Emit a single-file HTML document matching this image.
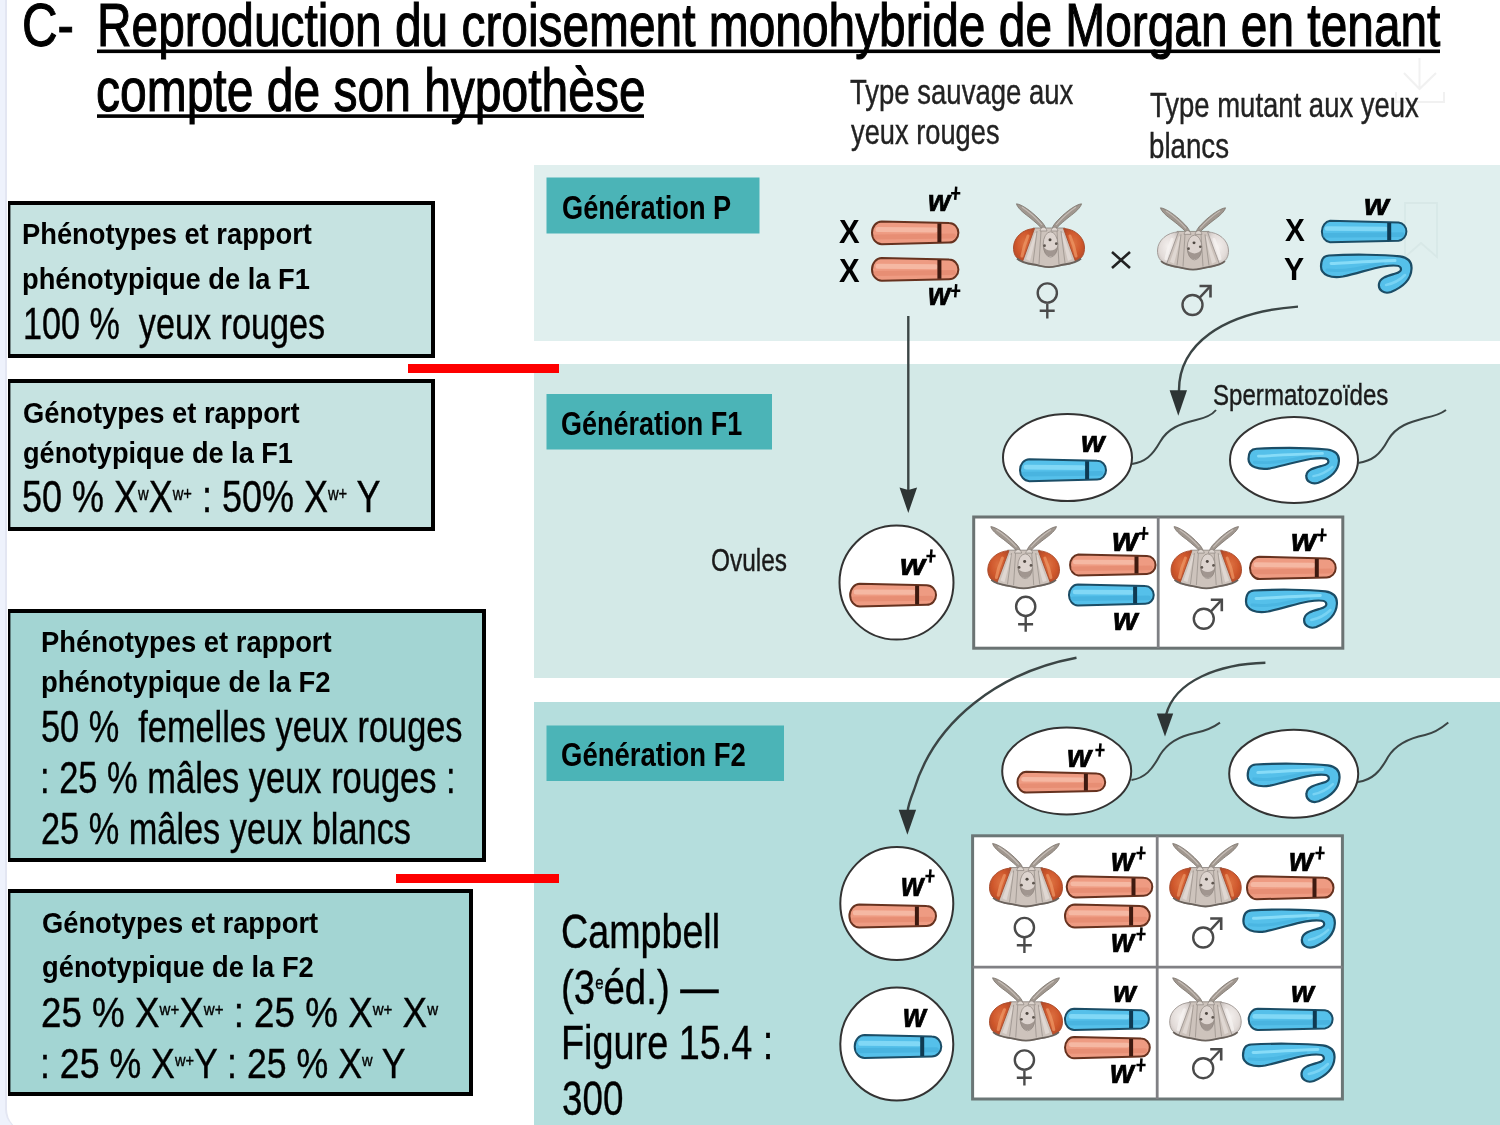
<!DOCTYPE html>
<html><head><meta charset="utf-8"><style>
html,body{margin:0;padding:0;width:1500px;height:1125px;overflow:hidden;background:#eef2fc;}
.slide{position:absolute;left:5px;top:-20px;width:1520px;height:1151px;background:#fff;border-left:2.5px solid #e3e6f2;border-radius:0 0 0 22px;}
.tx{position:absolute;font-family:"Liberation Sans",sans-serif;line-height:1;white-space:pre;transform-origin:0 0;}
svg{position:absolute;left:0;top:0;}
</style></head><body>
<div class="slide"></div>
<svg width="1500" height="1125" viewBox="0 0 1500 1125"><defs><radialGradient id="eyeR" cx="0.5" cy="0.45" r="0.6"><stop offset="0" stop-color="#dc7040"/><stop offset="0.6" stop-color="#cf572c"/><stop offset="1" stop-color="#b44a28"/></radialGradient><filter id="soft" x="-10%" y="-10%" width="120%" height="120%"><feGaussianBlur stdDeviation="0.35"/></filter><radialGradient id="eyeW" cx="0.5" cy="0.45" r="0.6"><stop offset="0" stop-color="#f3efed"/><stop offset="0.7" stop-color="#e2dbd8"/><stop offset="1" stop-color="#c9c1bd"/></radialGradient></defs><rect x="534" y="165" width="966" height="176" fill="#e0efee"/><rect x="534" y="364" width="966" height="314" fill="#d3e9e7"/><rect x="534" y="702" width="966" height="423" fill="#b5dedd"/><rect x="546.5" y="177.5" width="213" height="56" fill="#4bb4b7"/><rect x="546.5" y="394" width="225.5" height="55.5" fill="#4bb4b7"/><rect x="546.5" y="725.5" width="237.5" height="55.5" fill="#4bb4b7"/><rect x="8" y="201" width="427" height="157" fill="#000"/><rect x="10.4" y="205" width="420.6" height="149" fill="#c6e3e1"/><rect x="8" y="379" width="427" height="152" fill="#000"/><rect x="10.4" y="383" width="420.6" height="144" fill="#c6e3e1"/><rect x="8" y="609" width="478" height="253" fill="#000"/><rect x="10.4" y="613" width="471.6" height="245" fill="#a3d5d3"/><rect x="8" y="889" width="465" height="207" fill="#000"/><rect x="10.4" y="893" width="458.6" height="199" fill="#a3d5d3"/><rect x="408" y="364" width="151" height="9" fill="#fe0000"/><rect x="396" y="874" width="163" height="9" fill="#fe0000"/><rect x="97" y="49.5" width="1343" height="3.6" fill="#000"/><rect x="97" y="114.3" width="547" height="3.6" fill="#000"/><path d="M1419.5,58 L1419.5,89 M1404,73 L1419.5,89 L1436,73 M1396,92 L1396,102 L1444,102 L1444,92" stroke="#f1f1f1" stroke-width="2" fill="none"/><path d="M1405,203 L1437,203 L1437,257 L1421,243 L1405,257 Z" stroke="#d8e8e7" stroke-width="1.8" fill="none"/><path d="M881.7,221.4 L949.1,223.0 A9.3,9.8 0 0 1 949.1,242.6 L881.7,244.2 A9.7,11.4 0 0 1 881.7,221.4 Z" fill="#ee9b82" stroke="#66321f" stroke-width="2"/><path d="M876.0,236.9 L953.4,236.0" stroke="#e3846a" stroke-width="5.0" stroke-linecap="round" opacity="0.55"/><path d="M878.0,229.6 L935.4,230.1" stroke="#f8c2ae" stroke-width="5.0" stroke-linecap="round" opacity="0.75"/><path d="M939.4,223.4 L939.4,242.2" stroke="#3e1a10" stroke-width="4"/><path d="M881.7,258.0 L949.1,259.6 A9.3,9.8 0 0 1 949.1,279.2 L881.7,280.8 A9.7,11.4 0 0 1 881.7,258.0 Z" fill="#ee9b82" stroke="#66321f" stroke-width="2"/><path d="M876.0,273.5 L953.4,272.6" stroke="#e3846a" stroke-width="5.0" stroke-linecap="round" opacity="0.55"/><path d="M878.0,266.2 L935.4,266.7" stroke="#f8c2ae" stroke-width="5.0" stroke-linecap="round" opacity="0.75"/><path d="M939.4,260.0 L939.4,278.8" stroke="#3e1a10" stroke-width="4"/><path d="M951.1,193.2 L960.3000000000001,193.2 M956.2,186.6 L955.2,199.79999999999998" stroke="#000" stroke-width="2.5"/><path d="M951.1,290.7 L960.3000000000001,290.7 M956.2,284.09999999999997 L955.2,297.3" stroke="#000" stroke-width="2.5"/><g transform="translate(1013.0,203.0) scale(1.0000,1.0000)" filter="url(#soft)"><path d="M3.5,0.8 C9,1.5 18,8 25,15 C29,19 32,22 33,26 L29.5,26.5 C27,23 22,19 16,14 C9,9 4,4 3.5,0.8 Z" fill="#a0978f" stroke="#7a726b" stroke-width="0.8"/><path d="M68.5,0.8 C63,1.5 54,8 47,15 C43,19 40,22 39,26 L42.5,26.5 C45,23 50,19 56,14 C63,9 68,4 68.5,0.8 Z" fill="#a0978f" stroke="#7a726b" stroke-width="0.8"/><path d="M9,4 C15,8 23,15 29,22 M63,4 C57,8 49,15 43,22" stroke="#cfc7c1" stroke-width="1.1" fill="none" opacity="0.8"/><path d="M20,25 L52,25 L63,58 C58,61 54,62 50,62 C44,63.5 40,64 36,64 C32,64 28,63.5 22,62 C18,62 14,61 9,58 Z" fill="#cdc3bc" stroke="#857d77" stroke-width="0.8"/><path d="M13,56 L22,30 L24,30 L17,58 Z M59,56 L50,30 L48,30 L55,58 Z" fill="#e4dcd7" opacity="0.8"/><path d="M27,28 C28,23 33,23 34,28 Z M38,28 C39,23 44,23 45,28 Z" fill="#ddd5cf" stroke="#8d857f" stroke-width="0.7"/><path d="M21.5,25.5 C10,26 1,34 0.5,44 C0.2,51 3,56 9.5,58.5 Z" fill="url(#eyeR)" stroke="#a84a2a" stroke-width="0.9"/><path d="M50.5,25.5 C62,26 71,34 71.5,44 C71.8,51 69,56 62.5,58.5 Z" fill="url(#eyeR)" stroke="#a84a2a" stroke-width="0.9"/><path d="M15,33 C12,40 10,47 9,53" stroke="#ef9d6c" stroke-width="3" fill="none" stroke-linecap="round" opacity="0.65"/><path d="M57,33 C60,40 62,47 63,53" stroke="#ef9d6c" stroke-width="3" fill="none" stroke-linecap="round" opacity="0.65"/><path d="M24,28 L20,60 M28,28 L26,61 M44,28 L46,61 M48,28 L52,60" stroke="#9a928c" stroke-width="0.8" fill="none"/><ellipse cx="37.5" cy="41.5" rx="7.3" ry="12.7" fill="#ddd4cf" stroke="#8d847e" stroke-width="0.7"/><path d="M30.4,43 C30.5,57 44.5,57 44.6,43 C42,49 33,49 30.4,43 Z" fill="#8c817b" opacity="0.75"/><circle cx="37" cy="36.7" r="1.5" fill="#4e4640"/><circle cx="31.5" cy="42.7" r="1.4" fill="#5e5650"/><circle cx="43.3" cy="40.7" r="1.4" fill="#5e5650"/><path d="M4,55.5 C8,59.5 14,60.5 21,61.5 C27,62.5 31,64.2 36,64.2 C41,64.2 45,62.5 51,61.5 C58,60.5 64,59.5 68,55.5" stroke="#6a625c" stroke-width="1.8" fill="none"/></g><circle cx="1047.3" cy="293" r="9.6" fill="none" stroke="#4a4a4a" stroke-width="2.4"/><path d="M1047.3,303.4 L1047.3,318.4 M1039.7,310.8 L1054.7,310.8" stroke="#4a4a4a" stroke-width="2.4"/><path d="M1112,252 L1130,268 M1130,252 L1112,268" stroke="#222" stroke-width="2.6"/><g transform="translate(1157.0,207.0) scale(1.0000,0.9766)" filter="url(#soft)"><path d="M3.5,0.8 C9,1.5 18,8 25,15 C29,19 32,22 33,26 L29.5,26.5 C27,23 22,19 16,14 C9,9 4,4 3.5,0.8 Z" fill="#a0978f" stroke="#7a726b" stroke-width="0.8"/><path d="M68.5,0.8 C63,1.5 54,8 47,15 C43,19 40,22 39,26 L42.5,26.5 C45,23 50,19 56,14 C63,9 68,4 68.5,0.8 Z" fill="#a0978f" stroke="#7a726b" stroke-width="0.8"/><path d="M9,4 C15,8 23,15 29,22 M63,4 C57,8 49,15 43,22" stroke="#cfc7c1" stroke-width="1.1" fill="none" opacity="0.8"/><path d="M20,25 L52,25 L63,58 C58,61 54,62 50,62 C44,63.5 40,64 36,64 C32,64 28,63.5 22,62 C18,62 14,61 9,58 Z" fill="#cdc3bc" stroke="#857d77" stroke-width="0.8"/><path d="M13,56 L22,30 L24,30 L17,58 Z M59,56 L50,30 L48,30 L55,58 Z" fill="#e4dcd7" opacity="0.8"/><path d="M27,28 C28,23 33,23 34,28 Z M38,28 C39,23 44,23 45,28 Z" fill="#ddd5cf" stroke="#8d857f" stroke-width="0.7"/><path d="M21.5,25.5 C10,26 1,34 0.5,44 C0.2,51 3,56 9.5,58.5 Z" fill="url(#eyeW)" stroke="#9d9591" stroke-width="0.9"/><path d="M50.5,25.5 C62,26 71,34 71.5,44 C71.8,51 69,56 62.5,58.5 Z" fill="url(#eyeW)" stroke="#9d9591" stroke-width="0.9"/><path d="M15,33 C12,40 10,47 9,53" stroke="#f8f4f3" stroke-width="3" fill="none" stroke-linecap="round" opacity="0.65"/><path d="M57,33 C60,40 62,47 63,53" stroke="#f8f4f3" stroke-width="3" fill="none" stroke-linecap="round" opacity="0.65"/><path d="M24,28 L20,60 M28,28 L26,61 M44,28 L46,61 M48,28 L52,60" stroke="#9a928c" stroke-width="0.8" fill="none"/><ellipse cx="37.5" cy="41.5" rx="7.3" ry="12.7" fill="#ddd4cf" stroke="#8d847e" stroke-width="0.7"/><path d="M30.4,43 C30.5,57 44.5,57 44.6,43 C42,49 33,49 30.4,43 Z" fill="#8c817b" opacity="0.75"/><circle cx="37" cy="36.7" r="1.5" fill="#4e4640"/><circle cx="31.5" cy="42.7" r="1.4" fill="#5e5650"/><circle cx="43.3" cy="40.7" r="1.4" fill="#5e5650"/><path d="M4,55.5 C8,59.5 14,60.5 21,61.5 C27,62.5 31,64.2 36,64.2 C41,64.2 45,62.5 51,61.5 C58,60.5 64,59.5 68,55.5" stroke="#6a625c" stroke-width="1.8" fill="none"/></g><circle cx="1192.5" cy="305" r="10" fill="none" stroke="#4a4a4a" stroke-width="2.4"/><path d="M1199.7,297.6 L1209.9,286.6" stroke="#4a4a4a" stroke-width="2.4"/><path d="M1199.5,286 L1210.5,286 L1210.5,297.4" stroke="#4a4a4a" stroke-width="2.6" fill="none"/><path d="M1330.1,220.8 L1398.6,222.4 A8.7,9.2 0 0 1 1398.6,240.7 L1330.1,242.3 A9.1,10.8 0 0 1 1330.1,220.8 Z" fill="#55c0ea" stroke="#1b4d66" stroke-width="2"/><path d="M1325.0,235.4 L1402.3,234.6" stroke="#40acd9" stroke-width="4.7" stroke-linecap="round" opacity="0.55"/><path d="M1327.0,228.5 L1385.2,229.0" stroke="#90e0fa" stroke-width="4.7" stroke-linecap="round" opacity="0.75"/><path d="M1389.2,222.8 L1389.2,240.3" stroke="#0f3a52" stroke-width="4"/><g transform="translate(1321.0,255.0) scale(1.0000,1.0000)"><path d="M8,0.5 C30,-0.8 62,-0.5 79,1.3 C87,2.5 91,7 90.5,14 C90,24 82,32 70,37 C63,39.5 57,35 58,29 C58.5,23 66,21 73,19 C79,17.5 81,15.5 79.5,12.5 C78,10 72,10 62,11.5 C50,13.5 38,18 22,21.5 C10,23.5 0,20 0,11.5 C0,4.5 3,0.7 8,0.5 Z" fill="#55c0ea" stroke="#1b4d66" stroke-width="2.2" vector-effect="non-scaling-stroke"/><path d="M6,15 C25,17 45,12 62,8" stroke="#40acd9" stroke-width="3" fill="none" opacity="0.5" stroke-linecap="round"/><path d="M10,8.5 C30,7.5 55,6 74,5.5" stroke="#90e0fa" stroke-width="3" fill="none" opacity="0.85" stroke-linecap="round"/><path d="M65,30 C70,29 78,26 84,20" stroke="#90e0fa" stroke-width="2.5" fill="none" opacity="0.6" stroke-linecap="round"/></g><path d="M908.3,316 L908.3,492" stroke="#3b4545" stroke-width="2.4"/><path d="M899.5,487.5 L908.3,490.0 L917.0999999999999,487.5 L908.3,513 Z" fill="#2d3434"/><path d="M1298,306.6 C1222,312 1178,345 1179,392" stroke="#3b4545" stroke-width="2.4" fill="none"/><path d="M1169.6,390.2 L1178.3,390.2 L1187.0,390.2 L1178.3,415.7 Z" fill="#2d3434"/><ellipse cx="1067.5" cy="457.6" rx="64.5" ry="43.5" fill="#fff" stroke="#333" stroke-width="2"/><path d="M1029.3,459.2 L1097.1,460.8 A8.9,9.4 0 0 1 1097.1,479.6 L1029.3,481.2 A9.3,11.0 0 0 1 1029.3,459.2 Z" fill="#55c0ea" stroke="#1b4d66" stroke-width="2"/><path d="M1024.0,474.2 L1101.0,473.3" stroke="#40acd9" stroke-width="4.8" stroke-linecap="round" opacity="0.55"/><path d="M1026.0,467.1 L1083.1,467.6" stroke="#90e0fa" stroke-width="4.8" stroke-linecap="round" opacity="0.75"/><path d="M1087.1,461.2 L1087.1,479.2" stroke="#0f3a52" stroke-width="4"/><path d="M1132,464 C1145,462 1152,456 1160,442 C1168,428 1180,424 1196,420 C1205,418 1212,415 1216,410" stroke="#3b4545" stroke-width="2" fill="none"/><ellipse cx="1294" cy="460" rx="64" ry="43" fill="#fff" stroke="#333" stroke-width="2"/><g transform="translate(1248.5,448.3) scale(0.9989,0.9297)"><path d="M8,0.5 C30,-0.8 62,-0.5 79,1.3 C87,2.5 91,7 90.5,14 C90,24 82,32 70,37 C63,39.5 57,35 58,29 C58.5,23 66,21 73,19 C79,17.5 81,15.5 79.5,12.5 C78,10 72,10 62,11.5 C50,13.5 38,18 22,21.5 C10,23.5 0,20 0,11.5 C0,4.5 3,0.7 8,0.5 Z" fill="#55c0ea" stroke="#1b4d66" stroke-width="2.2" vector-effect="non-scaling-stroke"/><path d="M6,15 C25,17 45,12 62,8" stroke="#40acd9" stroke-width="3" fill="none" opacity="0.5" stroke-linecap="round"/><path d="M10,8.5 C30,7.5 55,6 74,5.5" stroke="#90e0fa" stroke-width="3" fill="none" opacity="0.85" stroke-linecap="round"/><path d="M65,30 C70,29 78,26 84,20" stroke="#90e0fa" stroke-width="2.5" fill="none" opacity="0.6" stroke-linecap="round"/></g><path d="M1358,463 C1372,461 1380,455 1388,440 C1396,426 1410,422 1425,418 C1435,416 1442,413 1446,410" stroke="#3b4545" stroke-width="2" fill="none"/><circle cx="896.5" cy="582.6" r="57" fill="#fff" stroke="#333" stroke-width="2"/><path d="M859.8,583.7 L926.7,585.3 A9.3,9.7 0 0 1 926.7,604.8 L859.8,606.4 A9.6,11.3 0 0 1 859.8,583.7 Z" fill="#ee9b82" stroke="#66321f" stroke-width="2"/><path d="M854.2,599.1 L931.0,598.2" stroke="#e3846a" stroke-width="5.0" stroke-linecap="round" opacity="0.55"/><path d="M856.2,591.9 L913.1,592.3" stroke="#f8c2ae" stroke-width="5.0" stroke-linecap="round" opacity="0.75"/><path d="M917.1,585.7 L917.1,604.4" stroke="#3e1a10" stroke-width="4"/><path d="M926.4,556 L935.6,556 M931.5,549.4 L930.5,562.6" stroke="#000" stroke-width="2.5"/><rect x="973.7" y="517" width="369.1" height="131.2" fill="#fff" stroke="#6b7373" stroke-width="3"/><path d="M1158.2,517 L1158.2,648" stroke="#7e8084" stroke-width="2.8"/><g transform="translate(987.3,525.8) scale(1.0097,0.9750)" filter="url(#soft)"><path d="M3.5,0.8 C9,1.5 18,8 25,15 C29,19 32,22 33,26 L29.5,26.5 C27,23 22,19 16,14 C9,9 4,4 3.5,0.8 Z" fill="#a0978f" stroke="#7a726b" stroke-width="0.8"/><path d="M68.5,0.8 C63,1.5 54,8 47,15 C43,19 40,22 39,26 L42.5,26.5 C45,23 50,19 56,14 C63,9 68,4 68.5,0.8 Z" fill="#a0978f" stroke="#7a726b" stroke-width="0.8"/><path d="M9,4 C15,8 23,15 29,22 M63,4 C57,8 49,15 43,22" stroke="#cfc7c1" stroke-width="1.1" fill="none" opacity="0.8"/><path d="M20,25 L52,25 L63,58 C58,61 54,62 50,62 C44,63.5 40,64 36,64 C32,64 28,63.5 22,62 C18,62 14,61 9,58 Z" fill="#cdc3bc" stroke="#857d77" stroke-width="0.8"/><path d="M13,56 L22,30 L24,30 L17,58 Z M59,56 L50,30 L48,30 L55,58 Z" fill="#e4dcd7" opacity="0.8"/><path d="M27,28 C28,23 33,23 34,28 Z M38,28 C39,23 44,23 45,28 Z" fill="#ddd5cf" stroke="#8d857f" stroke-width="0.7"/><path d="M21.5,25.5 C10,26 1,34 0.5,44 C0.2,51 3,56 9.5,58.5 Z" fill="url(#eyeR)" stroke="#a84a2a" stroke-width="0.9"/><path d="M50.5,25.5 C62,26 71,34 71.5,44 C71.8,51 69,56 62.5,58.5 Z" fill="url(#eyeR)" stroke="#a84a2a" stroke-width="0.9"/><path d="M15,33 C12,40 10,47 9,53" stroke="#ef9d6c" stroke-width="3" fill="none" stroke-linecap="round" opacity="0.65"/><path d="M57,33 C60,40 62,47 63,53" stroke="#ef9d6c" stroke-width="3" fill="none" stroke-linecap="round" opacity="0.65"/><path d="M24,28 L20,60 M28,28 L26,61 M44,28 L46,61 M48,28 L52,60" stroke="#9a928c" stroke-width="0.8" fill="none"/><ellipse cx="37.5" cy="41.5" rx="7.3" ry="12.7" fill="#ddd4cf" stroke="#8d847e" stroke-width="0.7"/><path d="M30.4,43 C30.5,57 44.5,57 44.6,43 C42,49 33,49 30.4,43 Z" fill="#8c817b" opacity="0.75"/><circle cx="37" cy="36.7" r="1.5" fill="#4e4640"/><circle cx="31.5" cy="42.7" r="1.4" fill="#5e5650"/><circle cx="43.3" cy="40.7" r="1.4" fill="#5e5650"/><path d="M4,55.5 C8,59.5 14,60.5 21,61.5 C27,62.5 31,64.2 36,64.2 C41,64.2 45,62.5 51,61.5 C58,60.5 64,59.5 68,55.5" stroke="#6a625c" stroke-width="1.8" fill="none"/></g><circle cx="1025.7" cy="606.4" r="9.6" fill="none" stroke="#4a4a4a" stroke-width="2.4"/><path d="M1025.7,616.8 L1025.7,631.8 M1018.1,624.1999999999999 L1033.1000000000001,624.1999999999999" stroke="#4a4a4a" stroke-width="2.4"/><path d="M1078.2,554.4 L1147.0,556.0 A8.5,8.9 0 0 1 1147.0,573.9 L1078.2,575.5 A9.0,10.6 0 0 1 1078.2,554.4 Z" fill="#ee9b82" stroke="#66321f" stroke-width="2"/><path d="M1073.2,568.7 L1150.5,567.9" stroke="#e3846a" stroke-width="4.6" stroke-linecap="round" opacity="0.55"/><path d="M1075.2,562.0 L1132.5,562.4" stroke="#f8c2ae" stroke-width="4.6" stroke-linecap="round" opacity="0.75"/><path d="M1136.5,556.4 L1136.5,573.5" stroke="#3e1a10" stroke-width="4"/><path d="M1077.9,584.5 L1145.3,586.1 A8.4,8.8 0 0 1 1145.3,603.8 L1077.9,605.4 A8.9,10.4 0 0 1 1077.9,584.5 Z" fill="#55c0ea" stroke="#1b4d66" stroke-width="2"/><path d="M1073.0,598.7 L1148.7,597.9" stroke="#40acd9" stroke-width="4.6" stroke-linecap="round" opacity="0.55"/><path d="M1075.0,592.0 L1131.1,592.4" stroke="#90e0fa" stroke-width="4.6" stroke-linecap="round" opacity="0.75"/><path d="M1135.1,586.5 L1135.1,603.4" stroke="#0f3a52" stroke-width="4"/><path d="M1139.2,533.4 L1148.3999999999999,533.4 M1144.3,526.8 L1143.3,540.0" stroke="#000" stroke-width="2.5"/><g transform="translate(1170.6,525.8) scale(0.9917,0.9750)" filter="url(#soft)"><path d="M3.5,0.8 C9,1.5 18,8 25,15 C29,19 32,22 33,26 L29.5,26.5 C27,23 22,19 16,14 C9,9 4,4 3.5,0.8 Z" fill="#a0978f" stroke="#7a726b" stroke-width="0.8"/><path d="M68.5,0.8 C63,1.5 54,8 47,15 C43,19 40,22 39,26 L42.5,26.5 C45,23 50,19 56,14 C63,9 68,4 68.5,0.8 Z" fill="#a0978f" stroke="#7a726b" stroke-width="0.8"/><path d="M9,4 C15,8 23,15 29,22 M63,4 C57,8 49,15 43,22" stroke="#cfc7c1" stroke-width="1.1" fill="none" opacity="0.8"/><path d="M20,25 L52,25 L63,58 C58,61 54,62 50,62 C44,63.5 40,64 36,64 C32,64 28,63.5 22,62 C18,62 14,61 9,58 Z" fill="#cdc3bc" stroke="#857d77" stroke-width="0.8"/><path d="M13,56 L22,30 L24,30 L17,58 Z M59,56 L50,30 L48,30 L55,58 Z" fill="#e4dcd7" opacity="0.8"/><path d="M27,28 C28,23 33,23 34,28 Z M38,28 C39,23 44,23 45,28 Z" fill="#ddd5cf" stroke="#8d857f" stroke-width="0.7"/><path d="M21.5,25.5 C10,26 1,34 0.5,44 C0.2,51 3,56 9.5,58.5 Z" fill="url(#eyeR)" stroke="#a84a2a" stroke-width="0.9"/><path d="M50.5,25.5 C62,26 71,34 71.5,44 C71.8,51 69,56 62.5,58.5 Z" fill="url(#eyeR)" stroke="#a84a2a" stroke-width="0.9"/><path d="M15,33 C12,40 10,47 9,53" stroke="#ef9d6c" stroke-width="3" fill="none" stroke-linecap="round" opacity="0.65"/><path d="M57,33 C60,40 62,47 63,53" stroke="#ef9d6c" stroke-width="3" fill="none" stroke-linecap="round" opacity="0.65"/><path d="M24,28 L20,60 M28,28 L26,61 M44,28 L46,61 M48,28 L52,60" stroke="#9a928c" stroke-width="0.8" fill="none"/><ellipse cx="37.5" cy="41.5" rx="7.3" ry="12.7" fill="#ddd4cf" stroke="#8d847e" stroke-width="0.7"/><path d="M30.4,43 C30.5,57 44.5,57 44.6,43 C42,49 33,49 30.4,43 Z" fill="#8c817b" opacity="0.75"/><circle cx="37" cy="36.7" r="1.5" fill="#4e4640"/><circle cx="31.5" cy="42.7" r="1.4" fill="#5e5650"/><circle cx="43.3" cy="40.7" r="1.4" fill="#5e5650"/><path d="M4,55.5 C8,59.5 14,60.5 21,61.5 C27,62.5 31,64.2 36,64.2 C41,64.2 45,62.5 51,61.5 C58,60.5 64,59.5 68,55.5" stroke="#6a625c" stroke-width="1.8" fill="none"/></g><circle cx="1203.8" cy="618.8" r="10" fill="none" stroke="#4a4a4a" stroke-width="2.4"/><path d="M1211.0,611.4 L1221.2,600.4" stroke="#4a4a4a" stroke-width="2.4"/><path d="M1210.8,599.8 L1221.8,599.8 L1221.8,611.1999999999999" stroke="#4a4a4a" stroke-width="2.6" fill="none"/><path d="M1259.4,556.8 L1326.7,558.4 A9.0,9.5 0 0 1 1326.7,577.4 L1259.4,579.0 A9.4,11.1 0 0 1 1259.4,556.8 Z" fill="#ee9b82" stroke="#66321f" stroke-width="2"/><path d="M1254.0,571.9 L1330.7,571.0" stroke="#e3846a" stroke-width="4.9" stroke-linecap="round" opacity="0.55"/><path d="M1256.0,564.8 L1312.8,565.2" stroke="#f8c2ae" stroke-width="4.9" stroke-linecap="round" opacity="0.75"/><path d="M1316.8,558.8 L1316.8,577.0" stroke="#3e1a10" stroke-width="4"/><g transform="translate(1246.0,590.0) scale(1.0044,1.0000)"><path d="M8,0.5 C30,-0.8 62,-0.5 79,1.3 C87,2.5 91,7 90.5,14 C90,24 82,32 70,37 C63,39.5 57,35 58,29 C58.5,23 66,21 73,19 C79,17.5 81,15.5 79.5,12.5 C78,10 72,10 62,11.5 C50,13.5 38,18 22,21.5 C10,23.5 0,20 0,11.5 C0,4.5 3,0.7 8,0.5 Z" fill="#55c0ea" stroke="#1b4d66" stroke-width="2.2" vector-effect="non-scaling-stroke"/><path d="M6,15 C25,17 45,12 62,8" stroke="#40acd9" stroke-width="3" fill="none" opacity="0.5" stroke-linecap="round"/><path d="M10,8.5 C30,7.5 55,6 74,5.5" stroke="#90e0fa" stroke-width="3" fill="none" opacity="0.85" stroke-linecap="round"/><path d="M65,30 C70,29 78,26 84,20" stroke="#90e0fa" stroke-width="2.5" fill="none" opacity="0.6" stroke-linecap="round"/></g><path d="M1317.4,535 L1326.6,535 M1322.5,528.4 L1321.5,541.6" stroke="#000" stroke-width="2.5"/><path d="M1076.5,657.7 C1000,672 935,720 914,790 C910,800 908,805 907.6,812" stroke="#3b4545" stroke-width="2.4" fill="none"/><path d="M898.6999999999999,809.7 L907.4,809.7 L916.1,809.7 L907.4,834.7 Z" fill="#2d3434"/><path d="M1265.4,662.8 C1220,664 1175,680 1166,715" stroke="#3b4545" stroke-width="2.4" fill="none"/><path d="M1156.8,713.4 L1165,713.4 L1173.2,713.4 L1165,736.4 Z" fill="#2d3434"/><ellipse cx="1066.7" cy="771" rx="64.5" ry="43.5" fill="#fff" stroke="#333" stroke-width="2"/><path d="M1026.3,771.8 L1096.8,773.4 A8.4,8.8 0 0 1 1096.8,791.0 L1026.3,792.6 A8.8,10.4 0 0 1 1026.3,771.8 Z" fill="#ee9b82" stroke="#66321f" stroke-width="2"/><path d="M1021.5,785.9 L1100.2,785.1" stroke="#e3846a" stroke-width="4.6" stroke-linecap="round" opacity="0.55"/><path d="M1023.5,779.3 L1081.9,779.7" stroke="#f8c2ae" stroke-width="4.6" stroke-linecap="round" opacity="0.75"/><path d="M1085.9,773.8 L1085.9,790.6" stroke="#3e1a10" stroke-width="4"/><path d="M1095.4,750 L1104.6,750 M1100.5,743.4 L1099.5,756.6" stroke="#000" stroke-width="2.5"/><path d="M1131.5,780 C1145,778 1152,770 1160,755 C1168,742 1180,736 1195,733 C1205,731 1214,727 1220,722.6" stroke="#3b4545" stroke-width="2" fill="none"/><ellipse cx="1293.7" cy="773.7" rx="64.5" ry="44" fill="#fff" stroke="#333" stroke-width="2"/><g transform="translate(1247.7,764.0) scale(1.0143,1.0081)"><path d="M8,0.5 C30,-0.8 62,-0.5 79,1.3 C87,2.5 91,7 90.5,14 C90,24 82,32 70,37 C63,39.5 57,35 58,29 C58.5,23 66,21 73,19 C79,17.5 81,15.5 79.5,12.5 C78,10 72,10 62,11.5 C50,13.5 38,18 22,21.5 C10,23.5 0,20 0,11.5 C0,4.5 3,0.7 8,0.5 Z" fill="#55c0ea" stroke="#1b4d66" stroke-width="2.2" vector-effect="non-scaling-stroke"/><path d="M6,15 C25,17 45,12 62,8" stroke="#40acd9" stroke-width="3" fill="none" opacity="0.5" stroke-linecap="round"/><path d="M10,8.5 C30,7.5 55,6 74,5.5" stroke="#90e0fa" stroke-width="3" fill="none" opacity="0.85" stroke-linecap="round"/><path d="M65,30 C70,29 78,26 84,20" stroke="#90e0fa" stroke-width="2.5" fill="none" opacity="0.6" stroke-linecap="round"/></g><path d="M1358,782 C1372,780 1380,772 1388,757 C1396,744 1410,738 1425,735 C1435,733 1443,727 1448.3,722.6" stroke="#3b4545" stroke-width="2" fill="none"/><circle cx="896.8" cy="903.6" r="56.5" fill="#fff" stroke="#333" stroke-width="2"/><path d="M859.2,904.5 L926.6,906.1 A9.4,9.9 0 0 1 926.6,925.9 L859.2,927.5 A9.8,11.5 0 0 1 859.2,904.5 Z" fill="#ee9b82" stroke="#66321f" stroke-width="2"/><path d="M853.4,920.1 L931.0,919.2" stroke="#e3846a" stroke-width="5.1" stroke-linecap="round" opacity="0.55"/><path d="M855.4,912.8 L912.9,913.2" stroke="#f8c2ae" stroke-width="5.1" stroke-linecap="round" opacity="0.75"/><path d="M916.9,906.5 L916.9,925.5" stroke="#3e1a10" stroke-width="4"/><path d="M925.4,876 L934.6,876 M930.5,869.4 L929.5,882.6" stroke="#000" stroke-width="2.5"/><circle cx="896.8" cy="1044" r="56.5" fill="#fff" stroke="#333" stroke-width="2"/><path d="M864.5,1035.0 L931.9,1036.6 A9.4,9.9 0 0 1 931.9,1056.4 L864.5,1058.0 A9.8,11.5 0 0 1 864.5,1035.0 Z" fill="#55c0ea" stroke="#1b4d66" stroke-width="2"/><path d="M858.7,1050.6 L936.3,1049.7" stroke="#40acd9" stroke-width="5.1" stroke-linecap="round" opacity="0.55"/><path d="M860.7,1043.3 L918.2,1043.7" stroke="#90e0fa" stroke-width="5.1" stroke-linecap="round" opacity="0.75"/><path d="M922.2,1037.0 L922.2,1056.0" stroke="#0f3a52" stroke-width="4"/><rect x="972.6" y="835.8" width="369.8" height="263.2" fill="#fff" stroke="#6b7676" stroke-width="3"/><path d="M1157.2,835.8 L1157.2,1099 M972.6,967.1 L1342.4,967.1" stroke="#808084" stroke-width="2.8"/><g transform="translate(989.0,842.7) scale(1.0278,0.9937)" filter="url(#soft)"><path d="M3.5,0.8 C9,1.5 18,8 25,15 C29,19 32,22 33,26 L29.5,26.5 C27,23 22,19 16,14 C9,9 4,4 3.5,0.8 Z" fill="#a0978f" stroke="#7a726b" stroke-width="0.8"/><path d="M68.5,0.8 C63,1.5 54,8 47,15 C43,19 40,22 39,26 L42.5,26.5 C45,23 50,19 56,14 C63,9 68,4 68.5,0.8 Z" fill="#a0978f" stroke="#7a726b" stroke-width="0.8"/><path d="M9,4 C15,8 23,15 29,22 M63,4 C57,8 49,15 43,22" stroke="#cfc7c1" stroke-width="1.1" fill="none" opacity="0.8"/><path d="M20,25 L52,25 L63,58 C58,61 54,62 50,62 C44,63.5 40,64 36,64 C32,64 28,63.5 22,62 C18,62 14,61 9,58 Z" fill="#cdc3bc" stroke="#857d77" stroke-width="0.8"/><path d="M13,56 L22,30 L24,30 L17,58 Z M59,56 L50,30 L48,30 L55,58 Z" fill="#e4dcd7" opacity="0.8"/><path d="M27,28 C28,23 33,23 34,28 Z M38,28 C39,23 44,23 45,28 Z" fill="#ddd5cf" stroke="#8d857f" stroke-width="0.7"/><path d="M21.5,25.5 C10,26 1,34 0.5,44 C0.2,51 3,56 9.5,58.5 Z" fill="url(#eyeR)" stroke="#a84a2a" stroke-width="0.9"/><path d="M50.5,25.5 C62,26 71,34 71.5,44 C71.8,51 69,56 62.5,58.5 Z" fill="url(#eyeR)" stroke="#a84a2a" stroke-width="0.9"/><path d="M15,33 C12,40 10,47 9,53" stroke="#ef9d6c" stroke-width="3" fill="none" stroke-linecap="round" opacity="0.65"/><path d="M57,33 C60,40 62,47 63,53" stroke="#ef9d6c" stroke-width="3" fill="none" stroke-linecap="round" opacity="0.65"/><path d="M24,28 L20,60 M28,28 L26,61 M44,28 L46,61 M48,28 L52,60" stroke="#9a928c" stroke-width="0.8" fill="none"/><ellipse cx="37.5" cy="41.5" rx="7.3" ry="12.7" fill="#ddd4cf" stroke="#8d847e" stroke-width="0.7"/><path d="M30.4,43 C30.5,57 44.5,57 44.6,43 C42,49 33,49 30.4,43 Z" fill="#8c817b" opacity="0.75"/><circle cx="37" cy="36.7" r="1.5" fill="#4e4640"/><circle cx="31.5" cy="42.7" r="1.4" fill="#5e5650"/><circle cx="43.3" cy="40.7" r="1.4" fill="#5e5650"/><path d="M4,55.5 C8,59.5 14,60.5 21,61.5 C27,62.5 31,64.2 36,64.2 C41,64.2 45,62.5 51,61.5 C58,60.5 64,59.5 68,55.5" stroke="#6a625c" stroke-width="1.8" fill="none"/></g><circle cx="1024.4" cy="927.5" r="9.6" fill="none" stroke="#4a4a4a" stroke-width="2.4"/><path d="M1024.4,937.9 L1024.4,952.9 M1016.8000000000001,945.3 L1031.8000000000002,945.3" stroke="#4a4a4a" stroke-width="2.4"/><path d="M1075.7,876.2 L1143.8,877.8 A8.5,9.0 0 0 1 1143.8,895.8 L1075.7,897.4 A9.0,10.6 0 0 1 1075.7,876.2 Z" fill="#ee9b82" stroke="#66321f" stroke-width="2"/><path d="M1070.7,890.6 L1147.3,889.8" stroke="#e3846a" stroke-width="4.7" stroke-linecap="round" opacity="0.55"/><path d="M1072.7,883.8 L1129.5,884.3" stroke="#f8c2ae" stroke-width="4.7" stroke-linecap="round" opacity="0.75"/><path d="M1133.5,878.2 L1133.5,895.4" stroke="#3e1a10" stroke-width="4"/><path d="M1074.8,904.5 L1140.4,906.1 A9.4,9.9 0 0 1 1140.4,925.9 L1074.8,927.5 A9.8,11.5 0 0 1 1074.8,904.5 Z" fill="#ee9b82" stroke="#66321f" stroke-width="2"/><path d="M1069.0,920.1 L1144.8,919.2" stroke="#e3846a" stroke-width="5.1" stroke-linecap="round" opacity="0.55"/><path d="M1071.0,912.8 L1127.1,913.2" stroke="#f8c2ae" stroke-width="5.1" stroke-linecap="round" opacity="0.75"/><path d="M1131.1,906.5 L1131.1,925.5" stroke="#3e1a10" stroke-width="4"/><path d="M1136.4,853 L1145.6,853 M1141.5,846.4 L1140.5,859.6" stroke="#000" stroke-width="2.5"/><path d="M1136.4,934 L1145.6,934 M1141.5,927.4 L1140.5,940.6" stroke="#000" stroke-width="2.5"/><g transform="translate(1169.2,842.7) scale(1.0069,0.9937)" filter="url(#soft)"><path d="M3.5,0.8 C9,1.5 18,8 25,15 C29,19 32,22 33,26 L29.5,26.5 C27,23 22,19 16,14 C9,9 4,4 3.5,0.8 Z" fill="#a0978f" stroke="#7a726b" stroke-width="0.8"/><path d="M68.5,0.8 C63,1.5 54,8 47,15 C43,19 40,22 39,26 L42.5,26.5 C45,23 50,19 56,14 C63,9 68,4 68.5,0.8 Z" fill="#a0978f" stroke="#7a726b" stroke-width="0.8"/><path d="M9,4 C15,8 23,15 29,22 M63,4 C57,8 49,15 43,22" stroke="#cfc7c1" stroke-width="1.1" fill="none" opacity="0.8"/><path d="M20,25 L52,25 L63,58 C58,61 54,62 50,62 C44,63.5 40,64 36,64 C32,64 28,63.5 22,62 C18,62 14,61 9,58 Z" fill="#cdc3bc" stroke="#857d77" stroke-width="0.8"/><path d="M13,56 L22,30 L24,30 L17,58 Z M59,56 L50,30 L48,30 L55,58 Z" fill="#e4dcd7" opacity="0.8"/><path d="M27,28 C28,23 33,23 34,28 Z M38,28 C39,23 44,23 45,28 Z" fill="#ddd5cf" stroke="#8d857f" stroke-width="0.7"/><path d="M21.5,25.5 C10,26 1,34 0.5,44 C0.2,51 3,56 9.5,58.5 Z" fill="url(#eyeR)" stroke="#a84a2a" stroke-width="0.9"/><path d="M50.5,25.5 C62,26 71,34 71.5,44 C71.8,51 69,56 62.5,58.5 Z" fill="url(#eyeR)" stroke="#a84a2a" stroke-width="0.9"/><path d="M15,33 C12,40 10,47 9,53" stroke="#ef9d6c" stroke-width="3" fill="none" stroke-linecap="round" opacity="0.65"/><path d="M57,33 C60,40 62,47 63,53" stroke="#ef9d6c" stroke-width="3" fill="none" stroke-linecap="round" opacity="0.65"/><path d="M24,28 L20,60 M28,28 L26,61 M44,28 L46,61 M48,28 L52,60" stroke="#9a928c" stroke-width="0.8" fill="none"/><ellipse cx="37.5" cy="41.5" rx="7.3" ry="12.7" fill="#ddd4cf" stroke="#8d847e" stroke-width="0.7"/><path d="M30.4,43 C30.5,57 44.5,57 44.6,43 C42,49 33,49 30.4,43 Z" fill="#8c817b" opacity="0.75"/><circle cx="37" cy="36.7" r="1.5" fill="#4e4640"/><circle cx="31.5" cy="42.7" r="1.4" fill="#5e5650"/><circle cx="43.3" cy="40.7" r="1.4" fill="#5e5650"/><path d="M4,55.5 C8,59.5 14,60.5 21,61.5 C27,62.5 31,64.2 36,64.2 C41,64.2 45,62.5 51,61.5 C58,60.5 64,59.5 68,55.5" stroke="#6a625c" stroke-width="1.8" fill="none"/></g><circle cx="1203.2" cy="937.5" r="10" fill="none" stroke="#4a4a4a" stroke-width="2.4"/><path d="M1210.4,930.1 L1220.6000000000001,919.1" stroke="#4a4a4a" stroke-width="2.4"/><path d="M1210.2,918.5 L1221.2,918.5 L1221.2,929.9" stroke="#4a4a4a" stroke-width="2.6" fill="none"/><path d="M1256.8,876.2 L1324.1,877.8 A9.4,9.9 0 0 1 1324.1,897.6 L1256.8,899.2 A9.8,11.5 0 0 1 1256.8,876.2 Z" fill="#ee9b82" stroke="#66321f" stroke-width="2"/><path d="M1251.0,891.8 L1328.5,890.9" stroke="#e3846a" stroke-width="5.1" stroke-linecap="round" opacity="0.55"/><path d="M1253.0,884.5 L1310.5,884.9" stroke="#f8c2ae" stroke-width="5.1" stroke-linecap="round" opacity="0.75"/><path d="M1314.5,878.2 L1314.5,897.2" stroke="#3e1a10" stroke-width="4"/><g transform="translate(1243.4,909.8) scale(1.0099,1.0027)"><path d="M8,0.5 C30,-0.8 62,-0.5 79,1.3 C87,2.5 91,7 90.5,14 C90,24 82,32 70,37 C63,39.5 57,35 58,29 C58.5,23 66,21 73,19 C79,17.5 81,15.5 79.5,12.5 C78,10 72,10 62,11.5 C50,13.5 38,18 22,21.5 C10,23.5 0,20 0,11.5 C0,4.5 3,0.7 8,0.5 Z" fill="#55c0ea" stroke="#1b4d66" stroke-width="2.2" vector-effect="non-scaling-stroke"/><path d="M6,15 C25,17 45,12 62,8" stroke="#40acd9" stroke-width="3" fill="none" opacity="0.5" stroke-linecap="round"/><path d="M10,8.5 C30,7.5 55,6 74,5.5" stroke="#90e0fa" stroke-width="3" fill="none" opacity="0.85" stroke-linecap="round"/><path d="M65,30 C70,29 78,26 84,20" stroke="#90e0fa" stroke-width="2.5" fill="none" opacity="0.6" stroke-linecap="round"/></g><path d="M1315.4,853 L1324.6,853 M1320.5,846.4 L1319.5,859.6" stroke="#000" stroke-width="2.5"/><g transform="translate(989.0,977.0) scale(1.0278,0.9922)" filter="url(#soft)"><path d="M3.5,0.8 C9,1.5 18,8 25,15 C29,19 32,22 33,26 L29.5,26.5 C27,23 22,19 16,14 C9,9 4,4 3.5,0.8 Z" fill="#a0978f" stroke="#7a726b" stroke-width="0.8"/><path d="M68.5,0.8 C63,1.5 54,8 47,15 C43,19 40,22 39,26 L42.5,26.5 C45,23 50,19 56,14 C63,9 68,4 68.5,0.8 Z" fill="#a0978f" stroke="#7a726b" stroke-width="0.8"/><path d="M9,4 C15,8 23,15 29,22 M63,4 C57,8 49,15 43,22" stroke="#cfc7c1" stroke-width="1.1" fill="none" opacity="0.8"/><path d="M20,25 L52,25 L63,58 C58,61 54,62 50,62 C44,63.5 40,64 36,64 C32,64 28,63.5 22,62 C18,62 14,61 9,58 Z" fill="#cdc3bc" stroke="#857d77" stroke-width="0.8"/><path d="M13,56 L22,30 L24,30 L17,58 Z M59,56 L50,30 L48,30 L55,58 Z" fill="#e4dcd7" opacity="0.8"/><path d="M27,28 C28,23 33,23 34,28 Z M38,28 C39,23 44,23 45,28 Z" fill="#ddd5cf" stroke="#8d857f" stroke-width="0.7"/><path d="M21.5,25.5 C10,26 1,34 0.5,44 C0.2,51 3,56 9.5,58.5 Z" fill="url(#eyeR)" stroke="#a84a2a" stroke-width="0.9"/><path d="M50.5,25.5 C62,26 71,34 71.5,44 C71.8,51 69,56 62.5,58.5 Z" fill="url(#eyeR)" stroke="#a84a2a" stroke-width="0.9"/><path d="M15,33 C12,40 10,47 9,53" stroke="#ef9d6c" stroke-width="3" fill="none" stroke-linecap="round" opacity="0.65"/><path d="M57,33 C60,40 62,47 63,53" stroke="#ef9d6c" stroke-width="3" fill="none" stroke-linecap="round" opacity="0.65"/><path d="M24,28 L20,60 M28,28 L26,61 M44,28 L46,61 M48,28 L52,60" stroke="#9a928c" stroke-width="0.8" fill="none"/><ellipse cx="37.5" cy="41.5" rx="7.3" ry="12.7" fill="#ddd4cf" stroke="#8d847e" stroke-width="0.7"/><path d="M30.4,43 C30.5,57 44.5,57 44.6,43 C42,49 33,49 30.4,43 Z" fill="#8c817b" opacity="0.75"/><circle cx="37" cy="36.7" r="1.5" fill="#4e4640"/><circle cx="31.5" cy="42.7" r="1.4" fill="#5e5650"/><circle cx="43.3" cy="40.7" r="1.4" fill="#5e5650"/><path d="M4,55.5 C8,59.5 14,60.5 21,61.5 C27,62.5 31,64.2 36,64.2 C41,64.2 45,62.5 51,61.5 C58,60.5 64,59.5 68,55.5" stroke="#6a625c" stroke-width="1.8" fill="none"/></g><circle cx="1024.4" cy="1060" r="9.6" fill="none" stroke="#4a4a4a" stroke-width="2.4"/><path d="M1024.4,1070.4 L1024.4,1085.4 M1016.8000000000001,1077.8 L1031.8000000000002,1077.8" stroke="#4a4a4a" stroke-width="2.4"/><path d="M1074.1,1008.7 L1141.2,1010.3 A8.6,9.1 0 0 1 1141.2,1028.4 L1074.1,1030.0 A9.1,10.6 0 0 1 1074.1,1008.7 Z" fill="#55c0ea" stroke="#1b4d66" stroke-width="2"/><path d="M1069.0,1023.2 L1144.8,1022.3" stroke="#40acd9" stroke-width="4.7" stroke-linecap="round" opacity="0.55"/><path d="M1071.0,1016.4 L1127.1,1016.8" stroke="#90e0fa" stroke-width="4.7" stroke-linecap="round" opacity="0.75"/><path d="M1131.1,1010.7 L1131.1,1028.0" stroke="#0f3a52" stroke-width="4"/><path d="M1074.0,1037.0 L1141.2,1038.6 A8.6,9.0 0 0 1 1141.2,1056.6 L1074.0,1058.2 A9.0,10.6 0 0 1 1074.0,1037.0 Z" fill="#ee9b82" stroke="#66321f" stroke-width="2"/><path d="M1069.0,1051.4 L1144.8,1050.6" stroke="#e3846a" stroke-width="4.7" stroke-linecap="round" opacity="0.55"/><path d="M1071.0,1044.6 L1127.1,1045.1" stroke="#f8c2ae" stroke-width="4.7" stroke-linecap="round" opacity="0.75"/><path d="M1131.1,1039.0 L1131.1,1056.2" stroke="#3e1a10" stroke-width="4"/><path d="M1136.4,1065 L1145.6,1065 M1141.5,1058.4 L1140.5,1071.6" stroke="#000" stroke-width="2.5"/><g transform="translate(1169.2,977.0) scale(1.0069,0.9922)" filter="url(#soft)"><path d="M3.5,0.8 C9,1.5 18,8 25,15 C29,19 32,22 33,26 L29.5,26.5 C27,23 22,19 16,14 C9,9 4,4 3.5,0.8 Z" fill="#a0978f" stroke="#7a726b" stroke-width="0.8"/><path d="M68.5,0.8 C63,1.5 54,8 47,15 C43,19 40,22 39,26 L42.5,26.5 C45,23 50,19 56,14 C63,9 68,4 68.5,0.8 Z" fill="#a0978f" stroke="#7a726b" stroke-width="0.8"/><path d="M9,4 C15,8 23,15 29,22 M63,4 C57,8 49,15 43,22" stroke="#cfc7c1" stroke-width="1.1" fill="none" opacity="0.8"/><path d="M20,25 L52,25 L63,58 C58,61 54,62 50,62 C44,63.5 40,64 36,64 C32,64 28,63.5 22,62 C18,62 14,61 9,58 Z" fill="#cdc3bc" stroke="#857d77" stroke-width="0.8"/><path d="M13,56 L22,30 L24,30 L17,58 Z M59,56 L50,30 L48,30 L55,58 Z" fill="#e4dcd7" opacity="0.8"/><path d="M27,28 C28,23 33,23 34,28 Z M38,28 C39,23 44,23 45,28 Z" fill="#ddd5cf" stroke="#8d857f" stroke-width="0.7"/><path d="M21.5,25.5 C10,26 1,34 0.5,44 C0.2,51 3,56 9.5,58.5 Z" fill="url(#eyeW)" stroke="#9d9591" stroke-width="0.9"/><path d="M50.5,25.5 C62,26 71,34 71.5,44 C71.8,51 69,56 62.5,58.5 Z" fill="url(#eyeW)" stroke="#9d9591" stroke-width="0.9"/><path d="M15,33 C12,40 10,47 9,53" stroke="#f8f4f3" stroke-width="3" fill="none" stroke-linecap="round" opacity="0.65"/><path d="M57,33 C60,40 62,47 63,53" stroke="#f8f4f3" stroke-width="3" fill="none" stroke-linecap="round" opacity="0.65"/><path d="M24,28 L20,60 M28,28 L26,61 M44,28 L46,61 M48,28 L52,60" stroke="#9a928c" stroke-width="0.8" fill="none"/><ellipse cx="37.5" cy="41.5" rx="7.3" ry="12.7" fill="#ddd4cf" stroke="#8d847e" stroke-width="0.7"/><path d="M30.4,43 C30.5,57 44.5,57 44.6,43 C42,49 33,49 30.4,43 Z" fill="#8c817b" opacity="0.75"/><circle cx="37" cy="36.7" r="1.5" fill="#4e4640"/><circle cx="31.5" cy="42.7" r="1.4" fill="#5e5650"/><circle cx="43.3" cy="40.7" r="1.4" fill="#5e5650"/><path d="M4,55.5 C8,59.5 14,60.5 21,61.5 C27,62.5 31,64.2 36,64.2 C41,64.2 45,62.5 51,61.5 C58,60.5 64,59.5 68,55.5" stroke="#6a625c" stroke-width="1.8" fill="none"/></g><circle cx="1203.2" cy="1068.2" r="10" fill="none" stroke="#4a4a4a" stroke-width="2.4"/><path d="M1210.4,1060.8 L1220.6000000000001,1049.8" stroke="#4a4a4a" stroke-width="2.4"/><path d="M1210.2,1049.2 L1221.2,1049.2 L1221.2,1060.6000000000001" stroke="#4a4a4a" stroke-width="2.6" fill="none"/><path d="M1257.8,1008.7 L1324.9,1010.3 A8.6,9.1 0 0 1 1324.9,1028.4 L1257.8,1030.0 A9.1,10.6 0 0 1 1257.8,1008.7 Z" fill="#55c0ea" stroke="#1b4d66" stroke-width="2"/><path d="M1252.7,1023.2 L1328.5,1022.3" stroke="#40acd9" stroke-width="4.7" stroke-linecap="round" opacity="0.55"/><path d="M1254.7,1016.4 L1310.8,1016.8" stroke="#90e0fa" stroke-width="4.7" stroke-linecap="round" opacity="0.75"/><path d="M1314.8,1010.7 L1314.8,1028.0" stroke="#0f3a52" stroke-width="4"/><g transform="translate(1243.0,1044.0) scale(1.0110,1.0000)"><path d="M8,0.5 C30,-0.8 62,-0.5 79,1.3 C87,2.5 91,7 90.5,14 C90,24 82,32 70,37 C63,39.5 57,35 58,29 C58.5,23 66,21 73,19 C79,17.5 81,15.5 79.5,12.5 C78,10 72,10 62,11.5 C50,13.5 38,18 22,21.5 C10,23.5 0,20 0,11.5 C0,4.5 3,0.7 8,0.5 Z" fill="#55c0ea" stroke="#1b4d66" stroke-width="2.2" vector-effect="non-scaling-stroke"/><path d="M6,15 C25,17 45,12 62,8" stroke="#40acd9" stroke-width="3" fill="none" opacity="0.5" stroke-linecap="round"/><path d="M10,8.5 C30,7.5 55,6 74,5.5" stroke="#90e0fa" stroke-width="3" fill="none" opacity="0.85" stroke-linecap="round"/><path d="M65,30 C70,29 78,26 84,20" stroke="#90e0fa" stroke-width="2.5" fill="none" opacity="0.6" stroke-linecap="round"/></g></svg>
<span class='tx' style='left:21.54px;top:-5.19px;font-size:61.05px;font-weight:400;font-style:normal;transform:scaleX(0.8071);color:#000;-webkit-text-stroke:1.1px #000;'>C-</span><span class='tx' style='left:96.67px;top:-5.19px;font-size:61.05px;font-weight:400;font-style:normal;transform:scaleX(0.7839);color:#000;-webkit-text-stroke:1.1px #000;'>Reproduction du croisement monohybride de Morgan en tenant</span><span class='tx' style='left:96.38px;top:59.61px;font-size:61.05px;font-weight:400;font-style:normal;transform:scaleX(0.7862);color:#000;-webkit-text-stroke:1.1px #000;'>compte de son hypothèse</span><span class='tx' style='left:849.95px;top:74.73px;font-size:35.61px;font-weight:400;font-style:normal;transform:scaleX(0.7726);color:#222;-webkit-text-stroke:0.4px #222;'>Type sauvage aux</span><span class='tx' style='left:850.50px;top:115.33px;font-size:35.61px;font-weight:400;font-style:normal;transform:scaleX(0.7656);color:#222;-webkit-text-stroke:0.4px #222;'>yeux rouges</span><span class='tx' style='left:1150.45px;top:88.05px;font-size:34.88px;font-weight:400;font-style:normal;transform:scaleX(0.7880);color:#222;-webkit-text-stroke:0.4px #222;'>Type mutant aux yeux</span><span class='tx' style='left:1149.06px;top:128.55px;font-size:34.88px;font-weight:400;font-style:normal;transform:scaleX(0.7940);color:#222;-webkit-text-stroke:0.4px #222;'>blancs</span><span class='tx' style='left:22.29px;top:218.90px;font-size:30.23px;font-weight:700;font-style:normal;transform:scaleX(0.9040);color:#000;'>Phénotypes et rapport</span><span class='tx' style='left:22.29px;top:263.90px;font-size:30.23px;font-weight:700;font-style:normal;transform:scaleX(0.9022);color:#000;'>phénotypique de la F1</span><span class='tx' style='left:23.27px;top:302.84px;font-size:43.60px;font-weight:400;font-style:normal;transform:scaleX(0.7837);color:#000;-webkit-text-stroke:0.4px #000;'>100 %  yeux rouges</span><span class='tx' style='left:22.61px;top:397.50px;font-size:30.23px;font-weight:700;font-style:normal;transform:scaleX(0.9052);color:#000;'>Génotypes et rapport</span><span class='tx' style='left:22.61px;top:438.20px;font-size:30.23px;font-weight:700;font-style:normal;transform:scaleX(0.8982);color:#000;'>génotypique de la F1</span><span class='tx' style='left:22.26px;top:476.44px;font-size:43.60px;font-weight:400;font-style:normal;transform:scaleX(0.8254);color:#000;-webkit-text-stroke:0.4px #000;'>50 % X<span style='font-size:41%;position:relative;top:-0.72em'>w</span>X<span style='font-size:41%;position:relative;top:-0.72em'>w+</span> : 50% X<span style='font-size:41%;position:relative;top:-0.72em'>w+</span> Y</span><span class='tx' style='left:41.38px;top:626.94px;font-size:29.36px;font-weight:700;font-style:normal;transform:scaleX(0.9328);color:#000;'>Phénotypes et rapport</span><span class='tx' style='left:41.38px;top:667.34px;font-size:29.36px;font-weight:700;font-style:normal;transform:scaleX(0.9344);color:#000;'>phénotypique de la F2</span><span class='tx' style='left:41.33px;top:705.54px;font-size:43.60px;font-weight:400;font-style:normal;transform:scaleX(0.7870);color:#000;-webkit-text-stroke:0.4px #000;'>50 %  femelles yeux rouges</span><span class='tx' style='left:40.40px;top:756.84px;font-size:43.60px;font-weight:400;font-style:normal;transform:scaleX(0.7905);color:#000;-webkit-text-stroke:0.4px #000;'>: 25 % mâles yeux rouges :</span><span class='tx' style='left:41.08px;top:808.04px;font-size:43.60px;font-weight:400;font-style:normal;transform:scaleX(0.7870);color:#000;-webkit-text-stroke:0.4px #000;'>25 % mâles yeux blancs</span><span class='tx' style='left:42.21px;top:907.84px;font-size:29.36px;font-weight:700;font-style:normal;transform:scaleX(0.9300);color:#000;'>Génotypes et rapport</span><span class='tx' style='left:42.21px;top:952.44px;font-size:29.36px;font-weight:700;font-style:normal;transform:scaleX(0.9307);color:#000;'>génotypique de la F2</span><span class='tx' style='left:40.86px;top:992.02px;font-size:41.86px;font-weight:400;font-style:normal;transform:scaleX(0.8784);color:#000;-webkit-text-stroke:0.4px #000;'>25 % X<span style='font-size:41%;position:relative;top:-0.72em'>w+</span>X<span style='font-size:41%;position:relative;top:-0.72em'>w+</span> : 25 % X<span style='font-size:41%;position:relative;top:-0.72em'>w+</span> X<span style='font-size:41%;position:relative;top:-0.72em'>w</span></span><span class='tx' style='left:40.29px;top:1043.32px;font-size:41.86px;font-weight:400;font-style:normal;transform:scaleX(0.8525);color:#000;-webkit-text-stroke:0.4px #000;'>: 25 % X<span style='font-size:41%;position:relative;top:-0.72em'>w+</span>Y : 25 % X<span style='font-size:41%;position:relative;top:-0.72em'>w</span> Y</span><span class='tx' style='left:561.71px;top:190.94px;font-size:33.72px;font-weight:700;font-style:normal;transform:scaleX(0.8062);color:#000;'>Génération P</span><span class='tx' style='left:561.32px;top:407.04px;font-size:33.72px;font-weight:700;font-style:normal;transform:scaleX(0.7997);color:#000;'>Génération F1</span><span class='tx' style='left:561.30px;top:738.04px;font-size:33.72px;font-weight:700;font-style:normal;transform:scaleX(0.8155);color:#000;'>Génération F2</span><span class='tx' style='left:1212.70px;top:381.39px;font-size:29.07px;font-weight:400;font-style:normal;transform:scaleX(0.8289);color:#1a1a1a;-webkit-text-stroke:0.4px #1a1a1a;'>Spermatozoïdes</span><span class='tx' style='left:710.78px;top:545.51px;font-size:30.81px;font-weight:400;font-style:normal;transform:scaleX(0.7926);color:#1a1a1a;-webkit-text-stroke:0.4px #1a1a1a;'>Ovules</span><span class='tx' style='left:560.92px;top:906.56px;font-size:48.98px;font-weight:400;font-style:normal;transform:scaleX(0.7689);color:#000;-webkit-text-stroke:0.4px #000;'>Campbell</span><span class='tx' style='left:560.69px;top:962.86px;font-size:48.98px;font-weight:400;font-style:normal;transform:scaleX(0.7844);color:#000;-webkit-text-stroke:0.4px #000;'>(3<span style='font-size:39%;position:relative;top:-0.78em'>e</span>éd.) —</span><span class='tx' style='left:560.97px;top:1018.06px;font-size:48.98px;font-weight:400;font-style:normal;transform:scaleX(0.7723);color:#000;-webkit-text-stroke:0.4px #000;'>Figure 15.4 :</span><span class='tx' style='left:561.53px;top:1074.26px;font-size:48.98px;font-weight:400;font-style:normal;transform:scaleX(0.7511);color:#000;-webkit-text-stroke:0.4px #000;'>300</span><span class='tx' style='left:839.29px;top:213.59px;font-size:34.01px;font-weight:700;font-style:normal;transform:scaleX(0.9096);color:#000;'>X</span><span class='tx' style='left:839.29px;top:252.59px;font-size:34.01px;font-weight:700;font-style:normal;transform:scaleX(0.9096);color:#000;'>X</span><span class='tx' style='left:1284.70px;top:215.34px;font-size:31.25px;font-weight:700;font-style:normal;transform:scaleX(0.9500);color:#000;'>X</span><span class='tx' style='left:1284.40px;top:253.84px;font-size:31.25px;font-weight:700;font-style:normal;transform:scaleX(0.9651);color:#000;'>Y</span><span class='tx' style='left:927.58px;top:185.59px;font-size:29.55px;font-weight:700;font-style:italic;transform:scaleX(0.9633);color:#000;-webkit-text-stroke:0.7px #000;'>w</span><span class='tx' style='left:927.58px;top:279.05px;font-size:31.82px;font-weight:700;font-style:italic;transform:scaleX(0.8945);color:#000;-webkit-text-stroke:0.7px #000;'>w</span><span class='tx' style='left:1363.80px;top:190.36px;font-size:29.92px;font-weight:700;font-style:italic;transform:scaleX(1.0668);color:#000;-webkit-text-stroke:0.7px #000;'>w</span><span class='tx' style='left:1080.89px;top:426.83px;font-size:29.73px;font-weight:700;font-style:italic;transform:scaleX(1.0175);color:#000;-webkit-text-stroke:0.7px #000;'>w</span><span class='tx' style='left:900.18px;top:551.31px;font-size:29.17px;font-weight:700;font-style:italic;transform:scaleX(1.1077);color:#000;-webkit-text-stroke:0.7px #000;'>w</span><span class='tx' style='left:1112.23px;top:524.17px;font-size:32.39px;font-weight:700;font-style:italic;transform:scaleX(1.0332);color:#000;-webkit-text-stroke:0.7px #000;'>w</span><span class='tx' style='left:1113.12px;top:603.29px;font-size:32.01px;font-weight:700;font-style:italic;transform:scaleX(0.9893);color:#000;-webkit-text-stroke:0.7px #000;'>w</span><span class='tx' style='left:1291.18px;top:525.45px;font-size:31.82px;font-weight:700;font-style:italic;transform:scaleX(1.0154);color:#000;-webkit-text-stroke:0.7px #000;'>w</span><span class='tx' style='left:1067.14px;top:740.52px;font-size:31.63px;font-weight:700;font-style:italic;transform:scaleX(0.9850);color:#000;-webkit-text-stroke:0.7px #000;'>w</span><span class='tx' style='left:900.95px;top:867.91px;font-size:33.52px;font-weight:700;font-style:italic;transform:scaleX(0.8643);color:#000;-webkit-text-stroke:0.7px #000;'>w</span><span class='tx' style='left:902.73px;top:998.61px;font-size:33.52px;font-weight:700;font-style:italic;transform:scaleX(0.8796);color:#000;-webkit-text-stroke:0.7px #000;'>w</span><span class='tx' style='left:1111.21px;top:843.21px;font-size:33.52px;font-weight:700;font-style:italic;transform:scaleX(0.8911);color:#000;-webkit-text-stroke:0.7px #000;'>w</span><span class='tx' style='left:1111.21px;top:924.41px;font-size:33.52px;font-weight:700;font-style:italic;transform:scaleX(0.8911);color:#000;-webkit-text-stroke:0.7px #000;'>w</span><span class='tx' style='left:1289.46px;top:843.21px;font-size:33.52px;font-weight:700;font-style:italic;transform:scaleX(0.9179);color:#000;-webkit-text-stroke:0.7px #000;'>w</span><span class='tx' style='left:1113.03px;top:976.80px;font-size:30.11px;font-weight:700;font-style:italic;transform:scaleX(0.9749);color:#000;-webkit-text-stroke:0.7px #000;'>w</span><span class='tx' style='left:1110.46px;top:1055.21px;font-size:33.52px;font-weight:700;font-style:italic;transform:scaleX(0.9179);color:#000;-webkit-text-stroke:0.7px #000;'>w</span><span class='tx' style='left:1291.43px;top:976.80px;font-size:30.11px;font-weight:700;font-style:italic;transform:scaleX(0.9792);color:#000;-webkit-text-stroke:0.7px #000;'>w</span>
</body></html>
